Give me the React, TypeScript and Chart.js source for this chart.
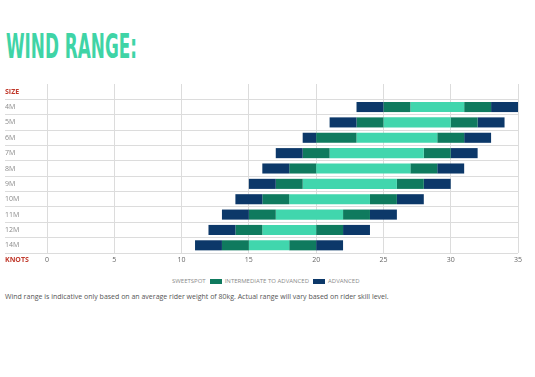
import React, { useEffect, useLayoutEffect, useRef, useState } from 'react';
import { Chart, registerables } from 'chart.js';
Chart.register(...registerables);

// Categories (first row is the "SIZE" header row)
const sizes = ['SIZE', '4M', '5M', '6M', '7M', '8M', '9M', '10M', '11M', '12M', '14M'];
// Knot boundaries for each kite size (4M .. 14M)
const advancedLowStart = [23, 21, 19, 17, 16, 15, 14, 13, 12, 11];
const intermediateLowStart = [25, 23, 20, 19, 18, 17, 16, 15, 14, 13];
const sweetspotStart = [27, 25, 23, 21, 20, 19, 18, 17, 16, 15];
const sweetspotEnd = [31, 30, 29, 28, 27, 26, 24, 22, 20, 18];
const intermediateHighEnd = [33, 32, 31, 30, 29, 28, 26, 24, 22, 20];
const advancedHighEnd = [35, 34, 33, 32, 31, 30, 28, 26, 24, 22];
const knotTicks = [0, 5, 10, 15, 20, 25, 30, 35];
const legendLabels = ['SWEETSPOT', 'INTERMEDIATE TO ADVANCED', 'ADVANCED'];

const TEAL = '#41d6ad';
const GREEN = '#0f7a5e';
const NAVY = '#0c3869';
const RED = '#c0392b';
const GRID = '#dcdcdc';
const FONT = "'Open Sans', 'DejaVu Sans', sans-serif";

function ranges(starts: number[], ends: number[]) {
  return [null, ...starts.map((s, i) => [s, ends[i]])];
}

const knotsLabelPlugin = {
  id: 'knotsLabel',
  afterDraw(chart: any) {
    const x = chart.scales.x;
    const ctx = chart.ctx;
    ctx.save();
    ctx.font = `bold 7px ${FONT}`;
    ctx.fillStyle = RED;
    ctx.textAlign = 'left';
    ctx.textBaseline = 'top';
    ctx.fillText('KNOTS', 5, x.top + 3);
    ctx.restore();
  },
};

function WindChart() {
  const ref = useRef<HTMLCanvasElement>(null);
  useEffect(() => {
    if (!ref.current) return;
    const mk = (label: string, color: string, s: number[], e: number[]) => ({
      label,
      data: ranges(s, e) as any,
      backgroundColor: color,
      borderWidth: 0,
      grouped: false,
      barPercentage: 0.8,
      categoryPercentage: 0.82,
    });
    const chart = new Chart(ref.current, {
      type: 'bar',
      data: {
        labels: sizes,
        datasets: [
          mk('ADVANCED', NAVY, advancedLowStart, intermediateLowStart),
          mk('INTERMEDIATE TO ADVANCED', GREEN, intermediateLowStart, sweetspotStart),
          mk('SWEETSPOT', TEAL, sweetspotStart, sweetspotEnd),
          mk('INTERMEDIATE TO ADVANCED', GREEN, sweetspotEnd, intermediateHighEnd),
          mk('ADVANCED', NAVY, intermediateHighEnd, advancedHighEnd),
        ] as any,
      },
      plugins: [knotsLabelPlugin],
      options: {
        indexAxis: 'y',
        animation: false,
        responsive: false,
        devicePixelRatio: 1,
        layout: { padding: { left: 5, right: 17, top: 6, bottom: 0 } },
        plugins: { legend: { display: false }, tooltip: { enabled: false } },
        scales: {
          x: {
            type: 'linear',
            min: 0,
            max: 35,
            afterBuildTicks: (s: any) => {
              s.ticks = knotTicks.map((v) => ({ value: v }));
            },
            afterFit: (s: any) => {
              s.height = 17;
            },
            border: { display: false },
            grid: { color: GRID, drawTicks: false, lineWidth: 1 },
            ticks: {
              color: '#666',
              font: { family: FONT, size: 7 },
              padding: 3,
            },
          },
          y: {
            type: 'category',
            afterFit: (s: any) => {
              s.width = 42;
            },
            border: { display: false },
            grid: {
              offset: true,
              color: (c: any) => (c.index === 0 ? 'rgba(0,0,0,0)' : GRID),
              tickColor: (c: any) => (c.index === 0 ? 'rgba(0,0,0,0)' : GRID),
              tickLength: 42,
              lineWidth: 1,
            },
            ticks: {
              crossAlign: 'far',
              padding: 0,
              autoSkip: false,
              color: (c: any) => (c.index === 0 ? RED : '#8a8a8a'),
              font: (c: any) => ({ family: FONT, size: 7, weight: c.index === 0 ? 'bold' : 'normal' }),
            },
          },
        },
      } as any,
    });
    return () => chart.destroy();
  }, []);
  return (
    <canvas
      ref={ref}
      width={535}
      height={192}
      style={{ position: 'absolute', left: 0, top: 78, width: 535, height: 192 }}
    />
  );
}

function Title() {
  const ref = useRef<HTMLSpanElement>(null);
  const [sx, setSx] = useState(1);
  useLayoutEffect(() => {
    if (ref.current) {
      const w = ref.current.getBoundingClientRect().width;
      if (w > 0) setSx(131 / w);
    }
  }, []);
  return (
    <div style={{ position: 'absolute', left: 6, top: 27, whiteSpace: 'nowrap' }}>
      <span
        ref={ref}
        style={{
          display: 'inline-block',
          fontFamily: "'DejaVu Sans Condensed', 'DejaVu Sans', sans-serif",
          fontWeight: 'bold',
          fontSize: 34,
          lineHeight: '38px',
          color: '#3fd4a6',
          transform: `scaleX(${sx})`,
          transformOrigin: 'left center',
        }}
      >
        WIND RANGE:
      </span>
    </div>
  );
}

function Legend() {
  const colors = ['transparent', GREEN, NAVY];
  return (
    <div
      style={{
        position: 'absolute',
        left: 157,
        top: 276,
        display: 'flex',
        alignItems: 'center',
        fontFamily: FONT,
        fontSize: 6,
        color: '#8a8a8a',
        whiteSpace: 'nowrap',
        lineHeight: '10px',
      }}
    >
      {legendLabels.map((l, i) => (
        <div key={l} style={{ display: 'flex', alignItems: 'center', marginRight: 4 }}>
          <span style={{ display: 'inline-block', width: 12, height: 5, background: colors[i], marginRight: 3 }} />
          <span>{l}</span>
        </div>
      ))}
    </div>
  );
}

export default function App() {
  return (
    <div style={{ position: 'absolute', left: 0, top: 0, width: 535, height: 377, background: '#fff' }}>
      <Title />
      <WindChart />
      <Legend />
      <div
        style={{
          position: 'absolute',
          left: 5,
          top: 292,
          fontFamily: FONT,
          fontSize: 7,
          color: '#555',
          whiteSpace: 'nowrap',
          lineHeight: '10px',
        }}
      >
        Wind range is indicative only based on an average rider weight of 80kg. Actual range will vary based on rider skill level.
      </div>
    </div>
  );
}
